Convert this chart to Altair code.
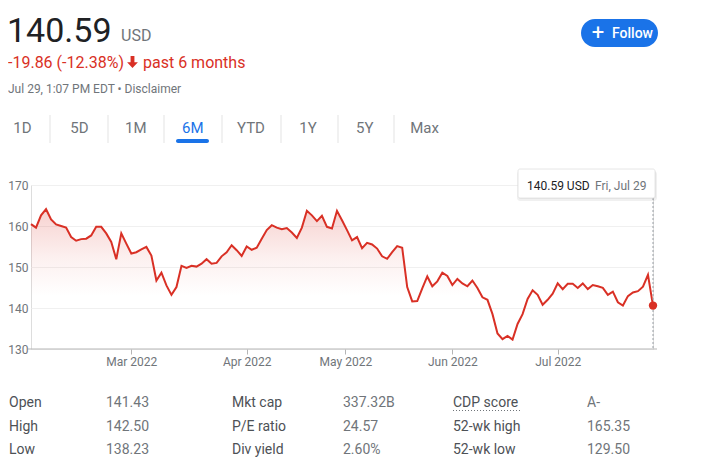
import altair as alt
import pandas as pd

# ---------------- data ----------------
prices = [
    160.45, 159.6, 162.6, 164.1, 161.6, 160.4, 160.0, 159.6, 157.3, 156.4,
    156.8, 156.9, 157.7, 159.8, 159.8, 158.2, 156.1, 151.9, 158.2, 155.7,
    153.3, 153.6, 154.3, 154.9, 152.8, 146.7, 148.6, 145.5, 143.2, 145.1,
    150.3, 149.8, 150.3, 150.1, 150.8, 151.9, 150.8, 151.0, 152.6, 153.6,
    155.3, 154.1, 152.7, 155.0, 154.2, 154.7, 156.9, 159.0, 160.2, 159.6,
    159.2, 159.5, 158.4, 157.1, 159.6, 163.7, 162.6, 161.2, 162.5, 159.8,
    159.4, 163.7, 161.4, 159.0, 156.5, 157.3, 154.6, 155.9, 155.5, 154.5,
    152.6, 152.0, 153.6, 155.1, 154.7, 145.1, 141.6, 141.7, 144.8, 147.7,
    145.3, 146.5, 148.6, 147.8, 145.6, 147.1, 146.0, 145.3, 146.7, 144.9,
    142.6, 142.0, 138.5, 133.8, 132.4, 133.2, 132.3, 136.1, 138.5, 142.2,
    144.3, 143.2, 140.8, 142.0, 143.5, 146.0, 144.6, 145.9, 145.9, 144.9,
    146.0, 144.6, 145.6, 145.3, 144.9, 143.2, 144.0, 141.4, 140.6, 142.9,
    143.8, 144.1, 145.2, 148.1, 140.59,
]
tick_pos = [20, 43, 62.667, 84, 105]          # trading-day index of month starts
tick_labels = ["Mar 2022", "Apr 2022", "May 2022", "Jun 2022", "Jul 2022"]
y_ticks = [130, 140, 150, 160, 170]

tabs = ["1D", "5D", "1M", "6M", "YTD", "1Y", "5Y", "Max"]
stat_labels = [["Open", "High", "Low"], ["Mkt cap", "P/E ratio", "Div yield"], ["CDP score", "52-wk high", "52-wk low"]]
stat_values = [["141.43", "142.50", "138.23"], ["337.32B", "24.57", "2.60%"], ["A-", "165.35", "129.50"]]

df = pd.DataFrame({"i": list(range(len(prices))), "price": prices})
df_last = df.tail(1)

# ---------------- layout ----------------
W, H = 622, 164
PAD_L, PAD_T = 23, 177
OX, OY = 8 + PAD_L, 8 + PAD_T   # page position of plot origin
RED = "#d93025"
GRAY = "#70757a"
DARK = "#202124"
BLUE = "#1a73e8"
FONT = "Roboto"

def px(x):
    return alt.value(x - OX)

def py(y):
    return alt.value(y - OY)

one = pd.DataFrame({"k": [0]})

def text(s, x, y, size=12, color=GRAY, weight="normal", align="left"):
    return alt.Chart(pd.DataFrame({"t": [s]})).mark_text(
        align=align, baseline="alphabetic", fontSize=size, color=color,
        fontWeight=weight, font=FONT
    ).encode(x=px(x), y=py(y), text="t:N")

def rect(x1, x2, y1, y2, color, radius=0, opacity=1.0, stroke=None):
    kw = dict(color=color, cornerRadius=radius, opacity=opacity)
    if stroke:
        kw.update(stroke=stroke, strokeWidth=1)
    return alt.Chart(one).mark_rect(**kw).encode(x=px(x1), x2=px(x2), y=py(y1), y2=py(y2))

def vrule(x, y1, y2, color, width=1, dash=None):
    kw = dict(color=color, strokeWidth=width)
    if dash:
        kw["strokeDash"] = dash
    return alt.Chart(one).mark_rule(**kw).encode(x=px(x), y=py(y1), y2=py(y2))

# label expression for month ticks
expr = "''"
for k in range(len(tick_pos) - 1, -1, -1):
    expr = f"abs(datum.value - {tick_pos[k]}) < 1 ? '{tick_labels[k]}' : ({expr})"

xscale = alt.Scale(domain=[0, len(prices) - 1], nice=False, zero=False)
yscale = alt.Scale(domain=[130, 170], nice=False, zero=False)

base = alt.Chart(df)

area = base.mark_area(
    color=alt.Gradient(
        gradient="linear",
        stops=[
            alt.GradientStop(color="rgba(217,48,37,0.22)", offset=0),
            alt.GradientStop(color="rgba(217,48,37,0.07)", offset=0.35),
            alt.GradientStop(color="rgba(217,48,37,0)", offset=0.62),
            alt.GradientStop(color="rgba(217,48,37,0)", offset=1),
        ],
        x1=1, x2=1, y1=0, y2=1,
    )
).encode(
    x=alt.X("i:Q", scale=xscale, axis=alt.Axis(
        values=tick_pos, labelExpr=expr, title=None, grid=False, domain=False,
        ticks=True, tickSize=5, tickColor="#b5b5b5", labelColor=GRAY,
        labelFont=FONT, labelFontSize=12, labelPadding=2, labelFlush=False,
        labelOverlap=False)),
    y=alt.Y("price:Q", scale=yscale, axis=alt.Axis(
        values=y_ticks, title=None, grid=True, gridColor="#f0f0f0", domain=False,
        ticks=False, tickSize=0, labelColor=GRAY, labelFont=FONT, labelFontSize=12,
        labelPadding=3)),
    y2=alt.datum(130),
)

baseline = alt.Chart(one).mark_rule(color="#b5b5b5", strokeWidth=1).encode(
    x=alt.value(-3), x2=alt.value(W + 4), y=alt.value(H))

line = base.mark_line(color=RED, strokeWidth=2).encode(
    x=alt.X("i:Q", scale=xscale), y=alt.Y("price:Q", scale=yscale))

cursor = alt.Chart(df_last).mark_rule(color="#9aa0a6", strokeWidth=1, strokeDash=[2, 2]).encode(
    x=alt.X("i:Q", scale=xscale), y=py(198), y2=alt.value(H))

dot = alt.Chart(df_last).mark_point(filled=True, color=RED, size=70, opacity=1).encode(
    x=alt.X("i:Q", scale=xscale), y=alt.Y("price:Q", scale=yscale))

layers = [area, baseline, line, cursor, dot]

# tooltip box
layers += [
    rect(517, 657, 171, 201, "#000000", radius=3, opacity=0.06),
    rect(518, 656, 170, 199, "#000000", radius=3, opacity=0.06),
    rect(518, 655, 169, 198, "#ffffff", radius=2, stroke="#e6e6e6"),
    text("140.59 USD", 527, 190, 12, DARK),
    text("Fri, Jul 29", 595, 190, 12, GRAY),
]

# header
arrow = "M-0.32,-1 L0.32,-1 L0.32,0.05 L0.9,0.05 L0,1 L-0.9,0.05 L-0.32,0.05 Z"
layers += [
    text("140.59", 7, 42, 34, DARK),
    text("USD", 121, 41, 16, GRAY),
    text("-19.86 (-12.38%)", 8, 68, 16, RED),
    alt.Chart(one).mark_point(shape=arrow, filled=True, color=RED, size=144, opacity=1,
                              strokeWidth=0).encode(x=px(132.5), y=py(62)),
    text("past 6 months", 143, 68, 16, RED),
    text("Jul 29, 1:07 PM EDT \u2022 Disclaimer", 8, 93, 12, GRAY),
]

# follow button
layers += [
    rect(581, 658, 19, 47, BLUE, radius=14),
    text("+", 598, 40, 22, "#ffffff", align="center"),
    text("Follow", 612, 38, 14, "#ffffff", weight=500),
]

# tabs
tab_centers = [22.5, 79.5, 135.8, 192.8, 251, 308, 364.7, 424.5]
sep_x = [50, 108, 164, 222, 281, 338, 394]
for t, cx in zip(tabs, tab_centers):
    layers.append(text(t, cx, 133, 15, BLUE if t == "6M" else GRAY, align="center"))
for sx in sep_x:
    layers.append(vrule(sx, 115, 143, "#e3e3e3"))
layers.append(rect(176, 209, 139, 143, BLUE, radius=2))

# stats table
row_y = [406.5, 430.5, 454]
col_lx = [9, 232, 453]
col_vx = [106, 343, 587]
for c in range(3):
    for r in range(3):
        layers.append(text(stat_labels[c][r], col_lx[c], row_y[r], 14, "#4d5156"))
        layers.append(text(stat_values[c][r], col_vx[c], row_y[r], 14, GRAY))
layers.append(alt.Chart(one).mark_rule(color="#70757a", strokeWidth=1, strokeDash=[1, 2]).encode(
    x=px(453), x2=px(520), y=py(410.5)))

chart = alt.layer(*layers).properties(
    width=W, height=H,
    autosize=alt.AutoSizeParams(type="none"),
    padding={"left": PAD_L, "top": PAD_T, "right": 40, "bottom": 109},
).configure_view(stroke=None).configure(background="#ffffff")

chart.save("out.html", embed_options={"renderer": "svg", "actions": False})
